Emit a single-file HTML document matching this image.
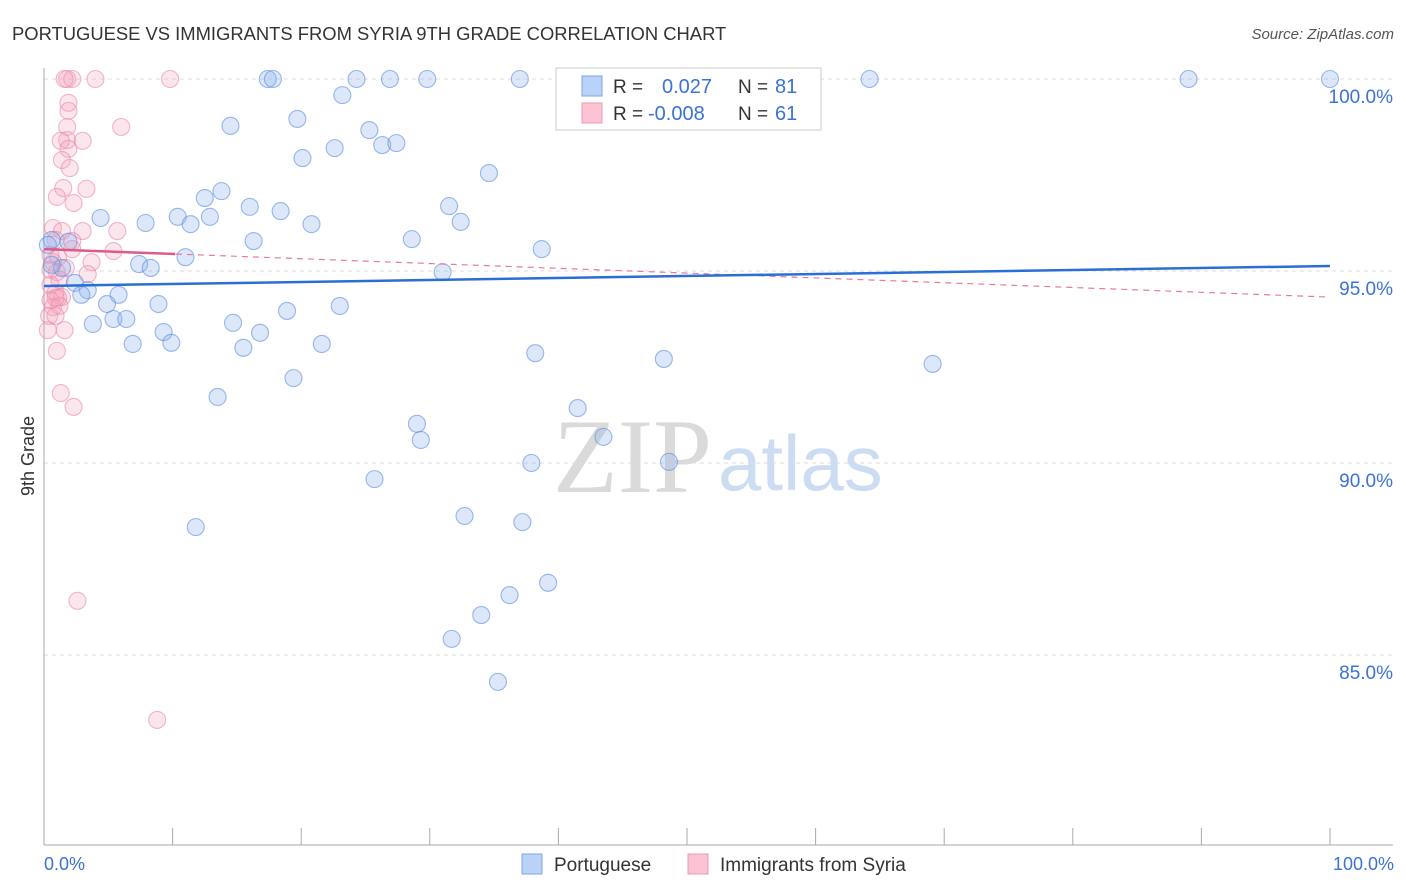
<!DOCTYPE html>
<html><head><meta charset="utf-8">
<style>
body{margin:0;background:#fff;font-family:"Liberation Sans",sans-serif;}
svg{display:block}
</style></head>
<body>
<svg id="chart" width="1406" height="892">
<text x="12" y="40" font-size="18.4" fill="#333">PORTUGUESE VS IMMIGRANTS FROM SYRIA 9TH GRADE CORRELATION CHART</text>
<text x="1394" y="39" font-size="15" fill="#555" font-style="italic" text-anchor="end">Source: ZipAtlas.com</text>
<text x="34" y="456" font-size="18" fill="#333" transform="rotate(-90 34 456)" text-anchor="middle">9th Grade</text>
<text x="553" y="492" font-size="106" fill="#dadada" font-family="Liberation Serif,serif">ZIP</text>
<text x="718" y="490" font-size="78" fill="#ccdcf2">atlas</text>
<g id="grid"></g>
<g id="axes"></g>
<g id="pts"></g>
<g id="trend"></g>
<g>
<rect x="556" y="68" width="265" height="62" fill="#fff" stroke="#ccc"/>
<rect x="582" y="76" width="20" height="20" fill="#b9d2f5" stroke="#7aa6e6"/>
<rect x="582" y="103" width="20" height="20" fill="#f9c3d3" stroke="#ee9ab4"/>
<text x="613" y="93" font-size="19" fill="#333">R = </text><text x="662" y="93" font-size="20" fill="#3a72d8">0.027</text>
<text x="738" y="93" font-size="19" fill="#333">N = </text><text x="775" y="93" font-size="20" fill="#3a72d8">81</text>
<text x="613" y="120" font-size="19" fill="#333">R = </text><text x="648" y="120" font-size="20" fill="#3a72d8">-0.008</text>
<text x="738" y="120" font-size="19" fill="#333">N = </text><text x="775" y="120" font-size="20" fill="#3a72d8">61</text>
</g>
<g>
<rect x="522" y="854" width="20" height="20" fill="#b9d2f5" stroke="#7aa6e6"/>
<text x="554" y="871" font-size="19" fill="#333">Portuguese</text>
<rect x="688" y="854" width="20" height="20" fill="#f9c3d3" stroke="#ee9ab4"/>
<text x="720" y="871" font-size="19" fill="#333">Immigrants from Syria</text>
</g>
<text x="44" y="870" font-size="18" fill="#3a72d8">0.0%</text>
<text x="1394" y="870" font-size="18" fill="#3a72d8" text-anchor="end">100.0%</text>
</svg>
<script>
const yTicks=[100,95,90,85];
const yTickLabels=["100.0%","95.0%","90.0%","85.0%"];
const blueX=[17.4,17.8,24.3,26.9,29.8,37.0,45.6,64.2,89.0,100,23.2,19.7,14.5,25.3,26.3,27.4,22.6,20.1,34.6,13.8,12.5,31.5,16.0,18.4,4.4,10.4,12.9,7.9,11.4,20.8,32.4,16.3,28.6,0.6,1.9,38.7,11.0,7.4,8.3,1.4,31.0,2.4,3.4,2.9,5.8,4.9,8.9,23.0,18.9,5.4,6.4,3.8,14.7,9.3,16.8,6.9,9.9,15.5,21.6,38.2,48.2,69.1,19.4,13.5,41.5,29.0,43.5,29.3,37.9,48.6,25.7,11.8,32.7,37.2,39.2,36.2,34.0,31.7,35.3,0.6,0.3];
const blueY=[100,100,100,100,100,100,100,100,100,100,99.58,98.96,98.78,98.67,98.28,98.33,98.2,97.94,97.55,97.08,96.9,96.69,96.67,96.56,96.38,96.41,96.41,96.25,96.22,96.22,96.28,95.78,95.83,95.81,95.76,95.57,95.36,95.18,95.08,95.08,94.97,94.69,94.5,94.38,94.38,94.14,94.14,94.09,93.96,93.75,93.75,93.62,93.65,93.41,93.39,93.1,93.13,93.0,93.1,92.86,92.71,92.58,92.21,91.72,91.43,91.02,90.68,90.6,90.0,90.03,89.58,88.33,88.62,88.46,86.88,86.56,86.04,85.42,84.3,95.16,95.68];
const pinkX=[1.8,2.2,4.0,9.8,1.6,1.9,1.9,1.8,6.0,1.8,3.0,1.3,1.9,1.4,2.0,1.5,3.3,1.0,2.3,0.7,1.4,3.0,5.7,0.9,2.2,5.4,2.2,1.1,3.7,0.7,1.7,3.4,1.0,0.5,0.9,1.4,1.1,0.5,0.7,1.2,0.4,0.9,1.6,0.3,1.0,1.3,2.3,2.6,8.8,0.5,0.5,1.2,0.9];
const pinkY=[100,100,100,100,100,99.38,99.17,98.75,98.75,98.41,98.39,98.39,98.18,97.89,97.68,97.16,97.14,96.93,96.77,96.12,96.04,96.04,96.04,95.81,95.78,95.52,95.57,95.36,95.23,95.23,95.08,94.92,94.97,94.64,94.43,94.32,94.3,94.24,94.06,94.09,93.83,93.83,93.46,93.46,92.92,91.82,91.46,86.41,83.31,95.42,95.03,94.77,94.3];
const blueTrend=[94.61,95.13];
const pinkTrend=[95.57,94.32];
const X0=44,X1=1330;
const sx=v=>X0+(X1-X0)*v/100;
const sy=v=>79+(100-v)*38.4;
const NS="http://www.w3.org/2000/svg";
function mk(tag,attrs,parent){const e=document.createElementNS(NS,tag);for(const k in attrs)e.setAttribute(k,attrs[k]);parent.appendChild(e);return e;}
const grid=document.getElementById('grid'),axes=document.getElementById('axes'),pts=document.getElementById('pts'),tr=document.getElementById('trend');
yTicks.forEach((t,i)=>{
 const l=mk('line',{x1:X0,x2:1393,y1:sy(t),y2:sy(t),stroke:'#ddd','stroke-dasharray':'4,4'},grid);
 
 
 const tx=mk('text',{x:1393,y:sy(t)+24,'font-size':19,fill:'#3a72d8','text-anchor':'end'},grid);
 tx.textContent=yTickLabels[i];
 
 
});
const ya=mk('line',{x1:X0,x2:X0,y1:68,y2:845,stroke:'#aaa'},axes);


const xa=mk('line',{x1:X0,x2:1393,y1:845,y2:845,stroke:'#aaa'},axes);


for(let i=0;i<=10;i++){
 const t=mk('line',{x1:sx(i*10),x2:sx(i*10),y1:828,y2:845,stroke:'#aaa'},axes);
 
 
}
pinkX.forEach((x,i)=>{
 const c=mk('circle',{cx:sx(x),cy:sy(pinkY[i]),r:8.5,fill:'rgba(246,165,190,0.28)',stroke:'rgba(235,135,165,0.6)','stroke-width':1.1},pts);
 
 
});
blueX.forEach((x,i)=>{
 const c=mk('circle',{cx:sx(x),cy:sy(blueY[i]),r:8.5,fill:'rgba(140,180,240,0.3)',stroke:'rgba(90,140,220,0.6)','stroke-width':1.1},pts);
 
 
});
const pv=x=>pinkTrend[0]+(pinkTrend[1]-pinkTrend[0])*x/100;
const pd=mk('line',{x1:sx(0),y1:sy(pv(0)),x2:sx(100),y2:sy(pv(100)),stroke:'#e8799d','stroke-width':1.2,'stroke-dasharray':'6,5'},tr);


const ps=mk('line',{x1:sx(0),y1:sy(pv(0)),x2:sx(10.2),y2:sy(pv(10.2)),stroke:'#e05a88','stroke-width':2.5},tr);


const bl=mk('line',{x1:sx(0),y1:sy(blueTrend[0]),x2:sx(100),y2:sy(blueTrend[1]),stroke:'#2a6fd6','stroke-width':2.5},tr);


</script>
</body></html>
